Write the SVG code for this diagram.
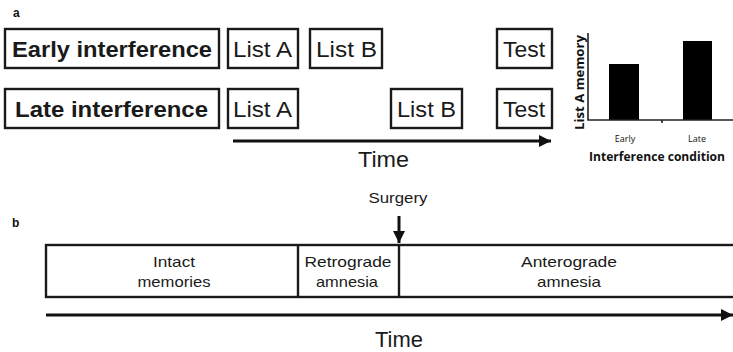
<svg xmlns="http://www.w3.org/2000/svg" width="733" height="352" viewBox="0 0 733 352">
  <defs>
    <marker id="arrowHead" viewBox="0 0 10 10" refX="10" refY="5" markerWidth="4" markerHeight="4.4" orient="auto" markerUnits="strokeWidth">
      <path d="M0,0 L10,5 L0,10 Z" fill="#111"/>
    </marker>
    <style>
      .box { fill: #fff; stroke: #1a1a1a; stroke-width: 2.4; }
      .lbl { font-family: "Liberation Sans", Arial, sans-serif; fill: #1a1a1a; }
      .big { font-size: 22px; }
      .bold { font-weight: bold; }
      .mid { font-size: 15px; text-anchor: middle; }
      .panel { font-family: "Liberation Sans", Arial, sans-serif; font-weight: bold; font-size: 12px; fill: #111; }
      .chart { font-family: "Open Sans", "Liberation Sans", sans-serif; fill: #111; }
      .axis { stroke: #222; stroke-width: 1.6; fill: none; }
      .conn { stroke: #111; stroke-width: 3; fill: none; }
    </style>
  </defs>

  <rect width="733" height="352" fill="#fff"/>

  <!-- panel a -->
  <text class="panel" x="13" y="17">a</text>

  <g id="early-interference">
    <rect class="box" x="5" y="29" width="214" height="39"/>
    <text class="lbl big bold" x="12" y="57" textLength="200" lengthAdjust="spacingAndGlyphs">Early interference</text>
  </g>
  <g id="late-interference">
    <rect class="box" x="5" y="89" width="214" height="39"/>
    <text class="lbl big bold" x="15" y="117" textLength="193" lengthAdjust="spacingAndGlyphs">Late interference</text>
  </g>

  <g id="early-list-a">
    <rect class="box" x="228" y="29" width="70" height="39"/>
    <text class="lbl big" x="233" y="57" textLength="59" lengthAdjust="spacingAndGlyphs">List A</text>
  </g>
  <g id="early-list-b">
    <rect class="box" x="310" y="29" width="72" height="39"/>
    <text class="lbl big" x="316" y="57" textLength="61" lengthAdjust="spacingAndGlyphs">List B</text>
  </g>
  <g id="early-test">
    <rect class="box" x="497" y="29" width="55" height="39"/>
    <text class="lbl big" x="503" y="57" textLength="42" lengthAdjust="spacingAndGlyphs">Test</text>
  </g>

  <g id="late-list-a">
    <rect class="box" x="228" y="89" width="70" height="39"/>
    <text class="lbl big" x="233" y="117" textLength="59" lengthAdjust="spacingAndGlyphs">List A</text>
  </g>
  <g id="late-list-b">
    <rect class="box" x="391" y="89" width="71" height="39"/>
    <text class="lbl big" x="397" y="117" textLength="59" lengthAdjust="spacingAndGlyphs">List B</text>
  </g>
  <g id="late-test">
    <rect class="box" x="497" y="89" width="55" height="39"/>
    <text class="lbl big" x="503" y="117" textLength="42" lengthAdjust="spacingAndGlyphs">Test</text>
  </g>

  <text class="lbl big" x="358" y="167" textLength="51" lengthAdjust="spacingAndGlyphs">Time</text>

  <!-- bar chart -->
  <g id="memory-chart">
    <rect x="609" y="64" width="30" height="56" fill="#000"/>
    <rect x="683" y="41" width="29" height="79" fill="#000"/>
    <path class="axis" d="M588,33 V120 H733"/>
    <path class="axis" d="M662,120 v3"/>
    <text class="chart" x="625" y="142" font-size="9" text-anchor="middle">Early</text>
    <text class="chart" x="697" y="142" font-size="9" text-anchor="middle">Late</text>
    <text class="chart" x="589" y="161" font-size="12.5" font-weight="bold" textLength="136" lengthAdjust="spacingAndGlyphs">Interference condition</text>
    <text class="chart" transform="translate(584,130) rotate(-90)" font-size="13" font-weight="bold" textLength="95" lengthAdjust="spacingAndGlyphs">List A memory</text>
  </g>

  <!-- panel b -->
  <text class="panel" x="12" y="227">b</text>

  <g id="timeline">
    <rect class="box" x="46" y="245" width="700" height="52"/>
    <line x1="298" y1="245" x2="298" y2="297" stroke="#1a1a1a" stroke-width="2.4"/>
    <line x1="399" y1="245" x2="399" y2="297" stroke="#1a1a1a" stroke-width="2.4"/>
  </g>
  <g id="intact-memories">
    <text class="lbl mid" x="174" y="267" textLength="42" lengthAdjust="spacingAndGlyphs">Intact</text>
    <text class="lbl mid" x="174" y="287" textLength="73" lengthAdjust="spacingAndGlyphs">memories</text>
  </g>
  <g id="retrograde-amnesia">
    <text class="lbl mid" x="348" y="267" textLength="87" lengthAdjust="spacingAndGlyphs">Retrograde</text>
    <text class="lbl mid" x="347" y="287" textLength="62" lengthAdjust="spacingAndGlyphs">amnesia</text>
  </g>
  <g id="anterograde-amnesia">
    <text class="lbl mid" x="569" y="267" textLength="96" lengthAdjust="spacingAndGlyphs">Anterograde</text>
    <text class="lbl mid" x="569" y="287" textLength="64" lengthAdjust="spacingAndGlyphs">amnesia</text>
  </g>
  <g id="surgery">
    <text class="lbl mid" x="398" y="203" textLength="59" lengthAdjust="spacingAndGlyphs">Surgery</text>
  </g>

  <text class="lbl big" x="375" y="347" textLength="48" lengthAdjust="spacingAndGlyphs">Time</text>

  <!-- connectors -->
  <g id="connectors">
    <line class="conn" x1="233" y1="141" x2="551" y2="141" marker-end="url(#arrowHead)"/>
    <line class="conn" x1="46" y1="315" x2="733" y2="315" marker-end="url(#arrowHead)"/>
    <line class="conn" x1="399" y1="216" x2="399" y2="243" stroke-width="2.6" marker-end="url(#arrowHead)"/>
  </g>
</svg>
